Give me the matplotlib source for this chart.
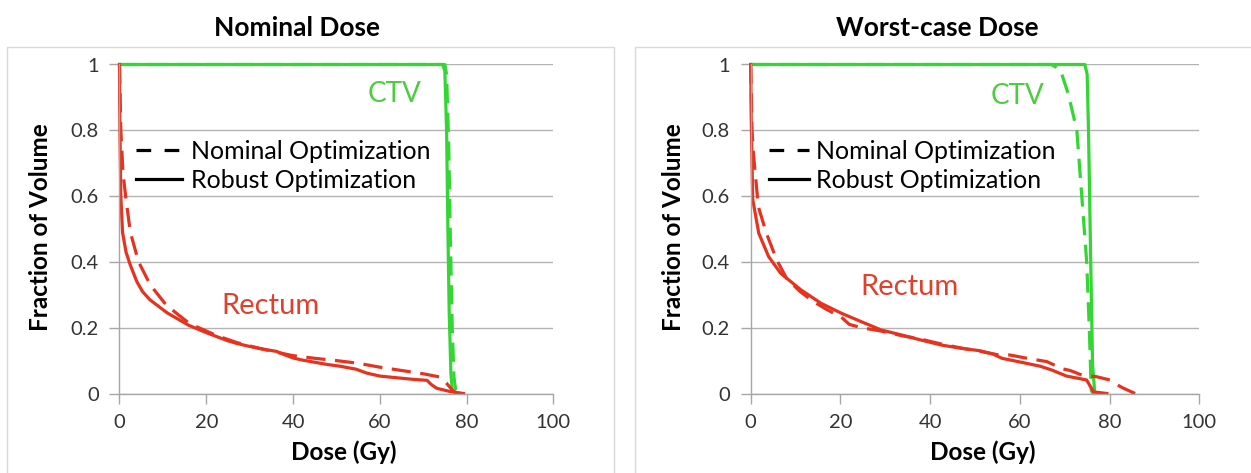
import matplotlib
matplotlib.use("Agg")
import matplotlib.pyplot as plt
from matplotlib.lines import Line2D
from matplotlib.patches import Rectangle

plt.rcParams['font.family'] = ['Lato', 'DejaVu Sans']

# ---- data (dose in Gy, fraction of volume) ----
# Nominal dose panel
nom_ctv_robust_dose = [0, 74.5, 75.0, 75.4, 75.7, 76.0, 76.4, 76.7, 77.5, 78.5]
nom_ctv_robust_vol = [1, 1, 0.98, 0.8, 0.5, 0.25, 0.06, 0.01, 0.003, 0]
nom_ctv_nominal_dose = [0, 75.0, 75.4, 75.9, 76.3, 76.7, 77.1, 77.5, 78.0]
nom_ctv_nominal_vol = [1, 1, 0.97, 0.75, 0.45, 0.2, 0.05, 0.01, 0]

nom_rect_robust_dose = [0, 0.1, 0.3, 0.7, 1.5, 2.5, 4, 5.3, 7, 8.9, 11, 13.5, 16, 18, 20,
                        22.6, 25, 27.1, 30, 33, 36.2, 38, 40, 42, 45.4, 48, 50.8, 54.5,
                        57, 60, 63, 67.7, 70.9, 71.8, 73.1, 76.2, 79.3]
nom_rect_robust_vol = [1, 0.8, 0.6, 0.49, 0.43, 0.39, 0.34, 0.31, 0.285, 0.266, 0.245,
                       0.226, 0.207, 0.196, 0.185, 0.172, 0.16, 0.152, 0.143, 0.135,
                       0.128, 0.118, 0.108, 0.102, 0.094, 0.088, 0.083, 0.074, 0.062,
                       0.053, 0.049, 0.043, 0.04, 0.028, 0.016, 0.006, 0]
nom_rect_nominal_dose = [0, 0.3, 0.8, 1.5, 2.5, 4.4, 7.1, 10.7, 13.5, 16.2, 20, 22.6, 27,
                         32, 36, 40, 45, 50, 55, 60, 65, 70, 73.9, 75.4, 77, 78]
nom_rect_nominal_vol = [1, 0.8, 0.67, 0.59, 0.49, 0.4, 0.33, 0.27, 0.24, 0.212, 0.19,
                        0.175, 0.155, 0.138, 0.126, 0.115, 0.107, 0.1, 0.092, 0.08,
                        0.07, 0.06, 0.05, 0.031, 0.006, 0]

# Worst-case dose panel
wc_ctv_robust_dose = [0, 74.5, 75.0, 75.3, 75.8, 76.2, 76.7]
wc_ctv_robust_vol = [1, 1, 0.97, 0.8, 0.4, 0.09, 0]
wc_ctv_nominal_dose = [0, 67.0, 69.0, 70.8, 72.7, 73.8, 74.9, 75.5, 75.9, 76.3]
wc_ctv_nominal_vol = [1, 1, 0.985, 0.91, 0.8, 0.6, 0.4, 0.19, 0.01, 0]

wc_rect_robust_dose = [0, 0.1, 0.3, 0.45, 1.8, 4, 6.7, 11.2, 15.7, 20.2, 24.7, 29.1, 33.6,
                       38.1, 42.6, 47.1, 51.1, 54, 56, 58.5, 61, 64.5, 67, 70.4, 74.9,
                       76.4, 79.4]
wc_rect_robust_vol = [1, 0.85, 0.7, 0.59, 0.487, 0.416, 0.365, 0.315, 0.274, 0.244, 0.218,
                      0.193, 0.178, 0.162, 0.147, 0.137, 0.13, 0.12, 0.107, 0.1, 0.093,
                      0.083, 0.072, 0.053, 0.041, 0.005, 0]
wc_rect_nominal_dose = [0, 0.3, 0.6, 1.7, 3.5, 5.8, 8, 11, 13.9, 17, 20.2, 22, 24.7, 29,
                        33.6, 38, 42.6, 47, 51.6, 55, 57.8, 62, 66, 69.5, 71.2, 74, 77.1,
                        80.1, 81.2, 83.1, 85.7]
wc_rect_nominal_vol = [1, 0.8, 0.73, 0.568, 0.487, 0.406, 0.35, 0.31, 0.28, 0.255, 0.232,
                       0.21, 0.2, 0.19, 0.176, 0.165, 0.15, 0.138, 0.127, 0.118, 0.117,
                       0.106, 0.097, 0.075, 0.07, 0.055, 0.051, 0.041, 0.03, 0.016, 0]

x_ticks = [0, 20, 40, 60, 80, 100]
y_ticks = [0, 0.2, 0.4, 0.6, 0.8, 1]
y_tick_labels = ['0', '0.2', '0.4', '0.6', '0.8', '1']

GREEN = '#33d633'
RED = '#e5331f'
W, H = 1251, 473

fig = plt.figure(figsize=(W / 100, H / 100), dpi=100)
fig.patch.set_facecolor('white')

# light gray panel frames like the Excel chart areas
fig.patches.append(Rectangle((7 / W, -0.05), 607 / W, 1.05 - 47 / H, transform=fig.transFigure,
                             fill=False, edgecolor='#d9d9d9', lw=1))
fig.patches.append(Rectangle((635 / W, -0.05), 640 / W, 1.05 - 47 / H, transform=fig.transFigure,
                             fill=False, edgecolor='#d9d9d9', lw=1))

panels = [
    dict(left=119.5, right=553.3, title="Nominal Dose", title_x=297,
         ctv=(nom_ctv_robust_dose, nom_ctv_robust_vol, nom_ctv_nominal_dose, nom_ctv_nominal_vol),
         rect=(nom_rect_robust_dose, nom_rect_robust_vol, nom_rect_nominal_dose, nom_rect_nominal_vol),
         ctv_txt=(63.5, 0.91), rect_txt=(34.9, 0.265), leg_x=136, hl=1.84, htp=0.36, ylab_x=52),
    dict(left=750.7, right=1199.3, title="Worst-case Dose", title_x=937,
         ctv=(wc_ctv_robust_dose, wc_ctv_robust_vol, wc_ctv_nominal_dose, wc_ctv_nominal_vol),
         rect=(wc_rect_robust_dose, wc_rect_robust_vol, wc_rect_nominal_dose, wc_rect_nominal_vol),
         ctv_txt=(59.5, 0.905), rect_txt=(35.3, 0.325), leg_x=769, hl=1.6, htp=0.28, ylab_x=685),
]

y_top, y_bot = 64.5, 393.5
for p in panels:
    width_px = p['right'] - p['left']
    ax = fig.add_axes([p['left'] / W, (H - y_bot) / H, width_px / W, (y_bot - y_top) / H])
    ax.set_xlim(0, 100)
    ax.set_ylim(0, 1)
    for s in ['top', 'right']:
        ax.spines[s].set_visible(False)
    for s in ['left', 'bottom']:
        ax.spines[s].set_color('#a6a6a6')
        ax.spines[s].set_linewidth(1)
    ax.set_xticks(x_ticks)
    ax.set_yticks(y_ticks)
    ax.set_yticklabels(y_tick_labels)
    ax.tick_params(axis='both', direction='out', length=7, width=1, color='#a6a6a6',
                   labelsize=14.5, labelcolor='#333333')
    ax.tick_params(axis='x', pad=8)
    ax.tick_params(axis='y', pad=8)
    ax.grid(axis='y', color='#b3b3b3', lw=1)
    ax.set_axisbelow(True)

    rd, rv, nd, nv = p['ctv']
    ax.plot(rd, rv, color=GREEN, lw=2.3, clip_on=False, solid_joinstyle='round')
    ax.plot(nd, nv, color=GREEN, lw=2.3, ls=(0, (6, 3)), clip_on=False)
    rd, rv, nd, nv = p['rect']
    ax.plot(rd, rv, color=RED, lw=2.3, clip_on=False, solid_joinstyle='round')
    ax.plot(nd, nv, color=RED, lw=2.3, ls=(0, (6, 3)), clip_on=False)

    ax.text(p['ctv_txt'][0], p['ctv_txt'][1], "CTV", color='#4ccc3f', fontsize=20,
            ha='center', va='center')
    ax.text(p['rect_txt'][0], p['rect_txt'][1], "Rectum", color='#e0402c', fontsize=21,
            ha='center', va='center')

    handles = [Line2D([], [], color='black', lw=2.3, ls=(0, (4.6, 4.2))),
               Line2D([], [], color='black', lw=2.3)]
    ax.legend(handles, ["Nominal Optimization", "Robust Optimization"], frameon=False,
              loc='upper left', bbox_to_anchor=((p['leg_x'] - p['left']) / width_px, 0.77),
              fontsize=18, handlelength=p['hl'], handletextpad=p['htp'], labelspacing=0.22,
              borderaxespad=0, borderpad=0)

    ax.set_xlabel("Dose (Gy)", fontsize=17.5, fontweight='bold')
    ax.xaxis.set_label_coords(0.517, -0.142)
    ax.set_ylabel("Fraction of Volume", fontsize=17.5, fontweight='bold')
    ax.yaxis.set_label_coords((p['ylab_x'] - p['left']) / width_px, 0.505)

    fig.text(p['title_x'] / W, 1 - 28 / H, p['title'], ha='center', va='center',
             fontsize=19, fontweight='bold')

fig.savefig("out.png", dpi=100)
